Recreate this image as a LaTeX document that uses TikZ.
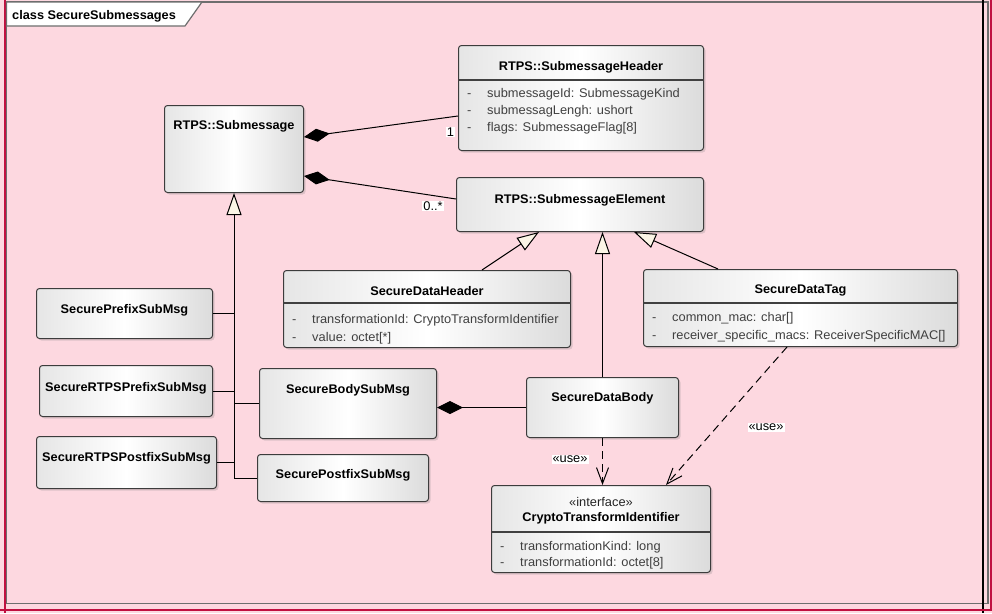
\documentclass[tikz,border=0pt]{standalone}
\usepackage{fontspec}
\setmainfont{Liberation Sans}
\newfontfamily\eafont[FakeStretch=1.02]{Liberation Sans}
\usetikzlibrary{arrows.meta,shadows,calc}

\definecolor{framepink}{HTML}{FDD8E0}
\definecolor{framered}{HTML}{C01040}
\definecolor{framegray}{HTML}{6E6E6E}
\definecolor{boxline}{HTML}{3C3C3C}
\definecolor{attrgray}{HTML}{404040}
\definecolor{genfill}{HTML}{FBF5E6}

\newcommand\titlefont{\eafont\bfseries\fontsize{12.5}{14}\selectfont}
\newcommand\attrfont{\eafont\fontsize{12.6}{14}\selectfont}

\tikzset{
  umlbox/.style={draw=boxline, line width=1pt, rounded corners=3pt,
    anchor=north west, inner sep=0pt,
    left color=black!10, right color=black!14, middle color=white,
    drop shadow={shadow xshift=2pt, shadow yshift=-2pt, opacity=0.25}},
  umltitle/.style={font=\titlefont, inner sep=0pt, anchor=base},
  attr/.style={font=\attrfont, text=attrgray, inner sep=0pt, anchor=base west},
  stereo/.style={font=\attrfont, text=black!85, inner sep=0pt, anchor=base},
  sepline/.style={draw=black!75, line width=1.2pt},
  comp/.style={draw=black, line width=1pt, {Diamond[length=26pt,width=13pt,fill=black]}-},
  gen/.style={draw=black, line width=1pt, -{Triangle[length=22pt,width=15pt,fill=genfill]}},
  plainlink/.style={draw=black, line width=1pt},
  uselink/.style={draw=black, line width=1pt, dash pattern=on 8pt off 5pt,
    -{Straight Barb[length=16pt,width=12pt]}},
  tag/.style={font=\attrfont, fill=white, inner sep=1pt}
}

% class box: name, left, top, right, bottom
\newcommand\umlcls[5]{%
  \node[umlbox, minimum width={(#4)-(#2)}, minimum height={(#5)-(#3)}] (#1) at (#2,#3) {};}
% attribute row: box, key, baseline, text
\newcommand\umlattr[4]{%
  \node[attr] (#1-#2d) at ($(#1.west |- 0,#3)+(9,0)$) {-};
  \node[attr] (#1-#2) at ($(#1.west |- 0,#3)+(29,0)$) {#4};}

\begin{document}
\begin{tikzpicture}[x=1pt,y=-1pt]
\useasboundingbox (0,0) rectangle (992,613);

% diagram frame
\fill[framepink] (0,0) rectangle (992,613);
\draw[framegray, line width=1.5pt] (6.5,2) rectangle (988,603.5);
\draw[black, line width=2pt] (983,0) -- (983,613);
\draw[framered, line width=1.5pt] (4.8,0) -- (4.8,613);
\draw[framered, line width=2pt] (0,610) -- (992,610);
\draw[framered, line width=1.5pt] (991,0) -- (991,611);
\draw[framegray, line width=1.2pt, fill=white] (6.5,2) -- (202,2) -- (185,26) -- (6.5,26) -- cycle;
\node[font=\titlefont, inner sep=0pt, anchor=base west] (frametitle) at (12,19) {class SecureSubmessages};

% classes
\umlcls{sub}{164}{105}{303}{192}
\umlcls{hdr}{458}{45}{703}{150}
\umlcls{elem}{456}{177}{703}{231}
\umlcls{dhdr}{283}{270}{570}{347}
\umlcls{dtag}{643}{269}{957}{346}
\umlcls{dbody}{526}{377}{678}{437}
\umlcls{cti}{491}{485}{710}{572}
\umlcls{pre}{36}{288}{212}{338}
\umlcls{rpre}{39}{365}{212}{416}
\umlcls{rpost}{36}{436}{216}{488}
\umlcls{body}{259}{368}{436}{438}
\umlcls{post}{257}{454}{428}{501}

% titles
\node[umltitle] (sub-t) at (sub.north |- 0,129.5) {RTPS::Submessage};
\node[umltitle] (hdr-t) at (hdr.north |- 0,70) {RTPS::SubmessageHeader};
\node[umltitle] (elem-t) at (elem.north |- 0,203.5) {RTPS::SubmessageElement};
\node[umltitle] (dhdr-t) at (dhdr.north |- 0,295.5) {SecureDataHeader};
\node[umltitle] (dtag-t) at (dtag.north |- 0,293.5) {SecureDataTag};
\node[umltitle] (dbody-t) at (dbody.north |- 0,401.5) {SecureDataBody};
\node[stereo] (cti-s) at (cti.north |- 0,506.5) {«interface»};
\node[umltitle] (cti-t) at (cti.north |- 0,521.5) {CryptoTransformIdentifier};
\node[umltitle] (pre-t) at (pre.north |- 0,313.5) {SecurePrefixSubMsg};
\node[umltitle] (rpre-t) at (rpre.north |- 0,391.5) {SecureRTPSPrefixSubMsg};
\node[umltitle] (rpost-t) at (rpost.north |- 0,461.5) {SecureRTPSPostfixSubMsg};
\node[umltitle] (body-t) at (body.north |- 0,393.5) {SecureBodySubMsg};
\node[umltitle] (post-t) at (post.north |- 0,478.5) {SecurePostfixSubMsg};

% compartments and attributes
\draw[sepline] (hdr.west |- 0,80) -- (hdr.east |- 0,80);
\umlattr{hdr}{a}{97.5}{submessageId: SubmessageKind}
\umlattr{hdr}{b}{114.5}{submessagLengh: ushort}
\umlattr{hdr}{c}{131.5}{flags: SubmessageFlag[8]}

\draw[sepline] (dhdr.west |- 0,303) -- (dhdr.east |- 0,303);
\umlattr{dhdr}{a}{323.5}{transformationId: CryptoTransformIdentifier}
\umlattr{dhdr}{b}{341.5}{value: octet[*]}

\draw[sepline] (dtag.west |- 0,303) -- (dtag.east |- 0,303);
\umlattr{dtag}{a}{321.5}{common\_mac: char[]}
\umlattr{dtag}{b}{339.5}{receiver\_specific\_macs: ReceiverSpecificMAC[]}

\draw[sepline] (cti.west |- 0,532) -- (cti.east |- 0,532);
\umlattr{cti}{a}{550.5}{transformationKind: long}
\umlattr{cti}{b}{566.5}{transformationId: octet[8]}

% compositions
\draw[comp] (sub.east |- 0,137) -- (hdr.west |- 0,116);
\draw[comp] (sub.east |- 0,176) -- (elem.west |- 0,199);
\draw[comp] (body.east |- dbody.west) -- (dbody.west);

% generalizations to RTPS::Submessage (shared trunk)
\draw[gen] (post.west) -| (sub.south);
\draw[plainlink] (pre.east) -- (pre.east -| sub.south);
\draw[plainlink] (rpre.east) -- (rpre.east -| sub.south);
\draw[plainlink] (rpost.east) -- (rpost.east -| sub.south);
\draw[plainlink] (body.west) -- (body.west -| sub.south);

% generalizations to RTPS::SubmessageElement
\draw[gen] (dhdr.north -| 482,0) -- (elem.south -| 539,0);
\draw[gen] (dbody.north) -- (dbody.north |- elem.south);
\draw[gen] (dtag.north -| 718,0) -- (elem.south -| 634,0);

% usage dependencies
\draw[uselink] (dbody.south) -- (dbody.south |- cti.north);
\draw[uselink] (dtag.south -| 787,0) -- (cti.north -| 666,0);

% connector labels
\node[tag] (m1) at (450.5,132) {1};
\node[tag] (m2) at (433,206) {0..*};
\node[tag] (u1) at (570,459.5) {«use»};
\node[tag] (u2) at (766,427.5) {«use»};
\end{tikzpicture}
\end{document}
